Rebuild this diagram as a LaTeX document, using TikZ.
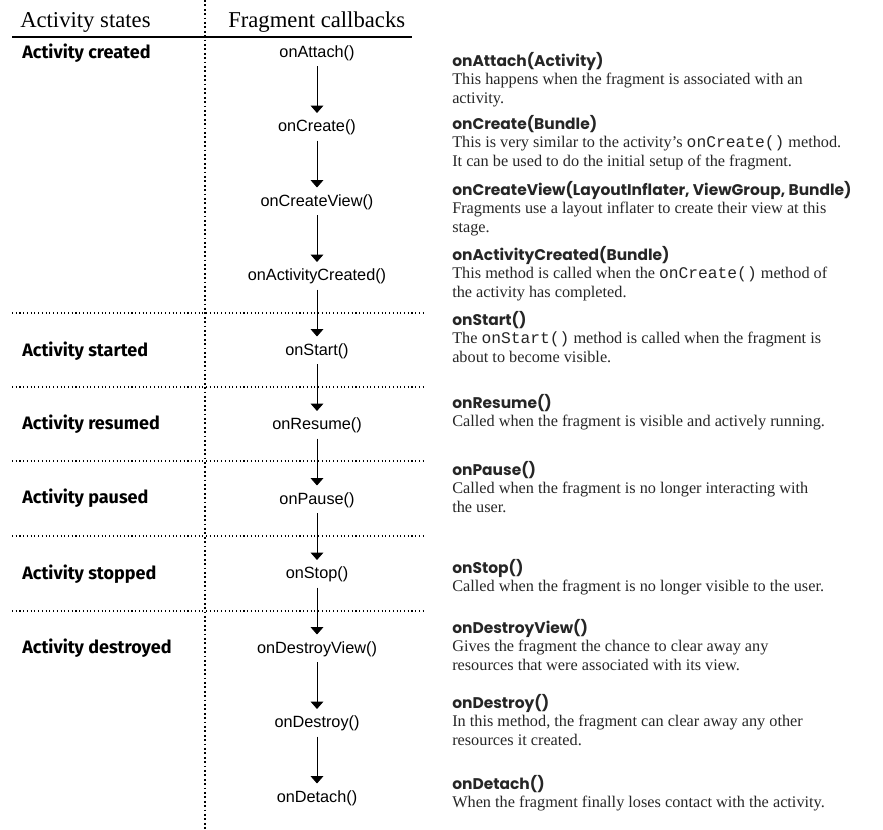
\documentclass[tikz,border=0pt]{standalone}
\usepackage{fontspec}
\setmainfont{Liberation Serif}
\setsansfont{Liberation Sans}
\setmonofont{Liberation Mono}
\newfontfamily\statefont{Fira Sans}
\newfontfamily\titlefont{Poppins}
\newcommand{\cbtitle}[1]{{\titlefont\bfseries\fontsize{11.6}{13.9}\selectfont #1}}
\usetikzlibrary{arrows.meta}

\begin{document}
\begin{tikzpicture}[x=0.75pt,y=-0.75pt,
    head/.style={font=\fontsize{17}{18}\selectfont, anchor=base west, inner sep=0pt},
    state/.style={font=\statefont\bfseries\fontsize{13.5}{15}\selectfont, anchor=west, inner sep=0pt},
    cb/.style={font=\sffamily\fontsize{12.2}{14}\selectfont, inner sep=2pt},
    desc/.style={anchor=north west, align=left, inner sep=0pt, text=black!85,
        font=\fontsize{12.2}{13.9}\selectfont},
    sep/.style={dotted, line width=0.8pt},
    flow/.style={-{Triangle[width=9.5pt,length=5.5pt]}, line width=0.6pt,
        shorten <=2pt, shorten >=3pt}]
    \useasboundingbox (0,0) rectangle (883,830);

    % column heads
    \node[head] (hstates) at (20, 28) {Activity states};
    \node[head] (hcallbacks) at (228, 28) {Fragment callbacks};
    \draw[line width=1.2pt] (12, 37) -- (412, 37);
    \draw[dotted, line width=1.3pt] (205, 0) -- (205, 830);

    % fragment callbacks
    \foreach \i/\name in {1/{onAttach()}, 2/{onCreate()}, 3/{onCreateView()},
        4/{onActivityCreated()}, 5/{onStart()}, 6/{onResume()}, 7/{onPause()},
        8/{onStop()}, 9/{onDestroyView()}, 10/{onDestroy()}, 11/{onDetach()}} {
        \node[cb] (cb\i) at (317, {53+74.5*(\i-1)}) {\name};
    }
    \foreach \i [evaluate=\i as \j using int(\i+1)] in {1,...,10} {
        \draw[flow] (cb\i) -- (cb\j);
    }

    % activity states
    \node[state] (created) at (22, 53) {Activity created};
    \node[state] (started) at (22, 351) {Activity started};
    \node[state] (resumed) at (22, 424) {Activity resumed};
    \node[state] (paused) at (22, 498) {Activity paused};
    \node[state] (stopped) at (22, 574) {Activity stopped};
    \node[state] (destroyed) at (22, 648) {Activity destroyed};

    \foreach \y in {313, 387, 461, 536, 611} {
        \draw[sep] (12, \y) -- (423, \y);
    }

    % descriptions
    \node[desc] (d1) at (452, 52) {\cbtitle{onAttach(Activity)}\\
        This happens when the fragment is associated with an\\ activity.};
    \node[desc] (d2) at (452, 115) {\cbtitle{onCreate(Bundle)}\\
        This is very similar to the activity's \texttt{onCreate()} method.\\
        It can be used to do the initial setup of the fragment.};
    \node[desc] (d3) at (452, 181) {\cbtitle{onCreateView(LayoutInflater, ViewGroup, Bundle)}\\
        Fragments use a layout inflater to create their view at this\\ stage.};
    \node[desc] (d4) at (452, 246) {\cbtitle{onActivityCreated(Bundle)}\\
        This method is called when the \texttt{onCreate()} method of\\
        the activity has completed.};
    \node[desc] (d5) at (452, 311) {\cbtitle{onStart()}\\
        The \texttt{onStart()} method is called when the fragment is\\
        about to become visible.};
    \node[desc] (d6) at (452, 394) {\cbtitle{onResume()}\\
        Called when the fragment is visible and actively running.};
    \node[desc] (d7) at (452, 461) {\cbtitle{onPause()}\\
        Called when the fragment is no longer interacting with\\ the user.};
    \node[desc] (d8) at (452, 559) {\cbtitle{onStop()}\\
        Called when the fragment is no longer visible to the user.};
    \node[desc] (d9) at (452, 619) {\cbtitle{onDestroyView()}\\
        Gives the fragment the chance to clear away any\\
        resources that were associated with its view.};
    \node[desc] (d10) at (452, 694) {\cbtitle{onDestroy()}\\
        In this method, the fragment can clear away any other\\
        resources it created.};
    \node[desc] (d11) at (452, 775) {\cbtitle{onDetach()}\\
        When the fragment finally loses contact with the activity.};
\end{tikzpicture}
\end{document}
